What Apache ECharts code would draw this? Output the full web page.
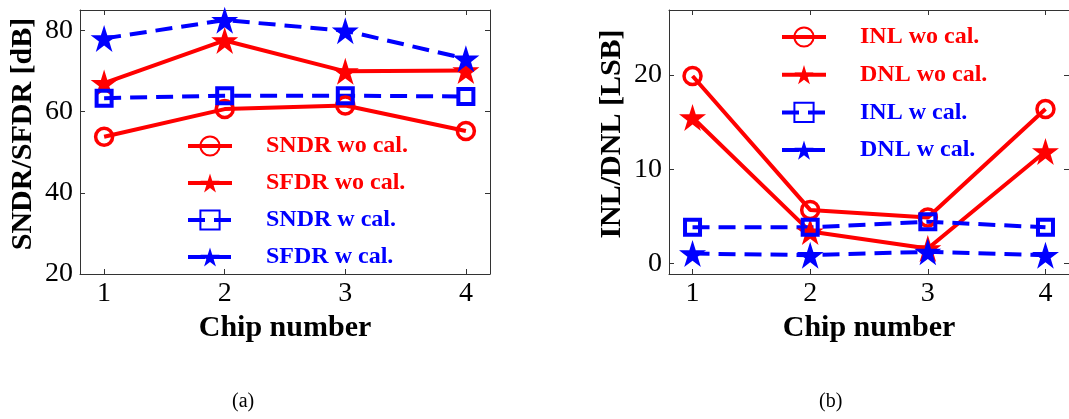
<!DOCTYPE html>
<html>
<head>
<meta charset="utf-8">
<script src="https://cdn.jsdelivr.net/npm/echarts@6/dist/echarts.min.js"></script>
<style>
  html, body { margin: 0; padding: 0; background: #fff; }
  #chart { width: 1069px; height: 419px; }
</style>
</head>
<body>
<div id="chart"></div>
<script>
// chip numbers on the x axis
const chips = [1, 2, 3, 4];

// (a) SNDR / SFDR in dB
const sndrWo = [53.8, 60.6, 61.5, 55.2];
const sfdrWo = [67.0, 77.5, 69.9, 70.1];
const sndrW = [63.3, 63.9, 63.9, 63.7];
const sfdrW = [78.0, 82.5, 79.9, 73.0];

// (b) INL / DNL in LSB
const inlWo = [19.9, 5.7, 4.9, 16.4];
const dnlWo = [15.5, 3.4, 1.6, 11.9];
const inlW = [3.85, 3.85, 4.45, 3.85];
const dnlW = [1.07, 0.9, 1.25, 0.9];

const ticksA = [20, 40, 60, 80];
const ticksB = [0, 10, 20];
const captions = ["(a)", "(b)"];

const RED = "#ff0000";
const BLUE = "#0000ff";
const SERIF = "'Liberation Serif', 'Times New Roman', serif";
const STAR =
  "path://M50 0 L61.23 34.55 L97.55 34.55 L68.17 55.9 L79.39 90.45 L50 69.1 L20.61 90.45 L31.83 55.9 L2.45 34.55 L38.77 34.55 Z";

function pairs(ys) {
  return chips.map((x, i) => [x, ys[i]]);
}

function makeSeries(name, ys, color, kind, dashed, axis) {
  const s = {
    name: name,
    type: "line",
    xAxisIndex: axis * 2,
    yAxisIndex: axis * 2,
    data: pairs(ys),
    color: color,
    lineStyle: { color: color, width: 4, type: dashed ? [17, 9] : "solid" },
    animation: false,
  };
  if (kind === "circle") {
    s.symbol = "circle";
    s.symbolSize = 17;
    s.itemStyle = { color: "rgba(255,255,255,0)", borderColor: color, borderWidth: 3.5 };
  } else if (kind === "square") {
    s.symbol = "rect";
    s.symbolSize = 15;
    s.itemStyle = { color: "rgba(255,255,255,0)", borderColor: color, borderWidth: 4 };
  } else {
    s.symbol = STAR;
    s.symbolSize = 27;
    s.itemStyle = { color: color, borderColor: color, borderWidth: 0 };
  }
  return s;
}

function xAxes(grid) {
  const base = {
    type: "value",
    gridIndex: grid,
    min: 0.8,
    max: 4.2,
    splitLine: { show: false },
    axisLine: { show: true, onZero: false, lineStyle: { color: "#333", width: 1 } },
    axisTick: { show: true, inside: true, length: 5, customValues: chips, lineStyle: { color: "#333" } },
  };
  return [
    Object.assign({}, base, {
      position: "bottom",
      name: "Chip number",
      nameLocation: "middle",
      nameGap: 36,
      nameTextStyle: { fontFamily: SERIF, fontWeight: "bold", fontSize: 30, color: "#000" },
      axisLabel: { customValues: chips, fontFamily: SERIF, fontSize: 28, color: "#000", margin: 6 },
    }),
    Object.assign({}, base, { position: "top", axisLabel: { show: false } }),
  ];
}

function yAxes(grid, min, max, ticks, title) {
  const base = {
    type: "value",
    gridIndex: grid,
    min: min,
    max: max,
    splitLine: { show: false },
    axisLine: { show: true, onZero: false, lineStyle: { color: "#333", width: 1 } },
    axisTick: { show: true, inside: true, length: 5, customValues: ticks, lineStyle: { color: "#333" } },
  };
  return [
    Object.assign({}, base, {
      position: "left",
      name: title,
      nameLocation: "middle",
      nameGap: 42,
      nameTextStyle: { fontFamily: SERIF, fontWeight: "bold", fontSize: 30, color: "#000", padding: [0, 0, 0, 16] },
      axisLabel: { customValues: ticks, fontFamily: SERIF, fontSize: 28, color: "#000", margin: 7 },
    }),
    Object.assign({}, base, { position: "right", axisLabel: { show: false } }),
  ];
}

function legend(names, colors, left, top, gap) {
  return {
    orient: "vertical",
    left: left,
    top: top,
    itemWidth: 44,
    itemHeight: 24,
    itemGap: gap,
    selectedMode: false,
    lineStyle: { width: 4 },
    data: names.map((n, i) => ({ name: n, textStyle: { color: colors[i] } })),
    textStyle: {
      fontFamily: SERIF,
      fontWeight: "bold",
      fontSize: 24,
      lineHeight: 24,
      padding: [0, 0, 0, 29],
    },
  };
}

const chart = echarts.init(document.getElementById("chart"));

const option = {
  backgroundColor: "#fff",
  animation: false,
  grid: [
    { left: 80, top: 10, width: 410, height: 264, show: false },
    { left: 669, top: 10, width: 407, height: 264, show: false },
  ],
  xAxis: xAxes(0).concat(xAxes(1)),
  yAxis: yAxes(0, 20, 85, ticksA, "SNDR/SFDR [dB]").concat(
    yAxes(1, -1.1, 26.9, ticksB, "INL/DNL [LSB]")
  ),
  legend: [
    legend(["SNDR wo cal.", "SFDR wo cal.", "SNDR w cal.", "SFDR w cal."], [RED, RED, BLUE, BLUE], 181, 129, 13),
    legend(["INL wo cal.", "DNL wo cal.", "INL w cal.", "DNL w cal."], [RED, RED, BLUE, BLUE], 775, 20, 13.7),
  ],
  series: [
    makeSeries("SNDR wo cal.", sndrWo, RED, "circle", false, 0),
    makeSeries("SFDR wo cal.", sfdrWo, RED, "star", false, 0),
    makeSeries("SNDR w cal.", sndrW, BLUE, "square", true, 0),
    makeSeries("SFDR w cal.", sfdrW, BLUE, "star", true, 0),
    makeSeries("INL wo cal.", inlWo, RED, "circle", false, 1),
    makeSeries("DNL wo cal.", dnlWo, RED, "star", false, 1),
    makeSeries("INL w cal.", inlW, BLUE, "square", true, 1),
    makeSeries("DNL w cal.", dnlW, BLUE, "star", true, 1),
  ],
  graphic: [
    {
      type: "text",
      left: 232,
      top: 392,
      style: { text: captions[0], font: "20px " + SERIF, fill: "#000" },
    },
    {
      type: "text",
      left: 819,
      top: 392,
      style: { text: captions[1], font: "20px " + SERIF, fill: "#000" },
    },
  ],
};

chart.setOption(option);
</script>
</body>
</html>
